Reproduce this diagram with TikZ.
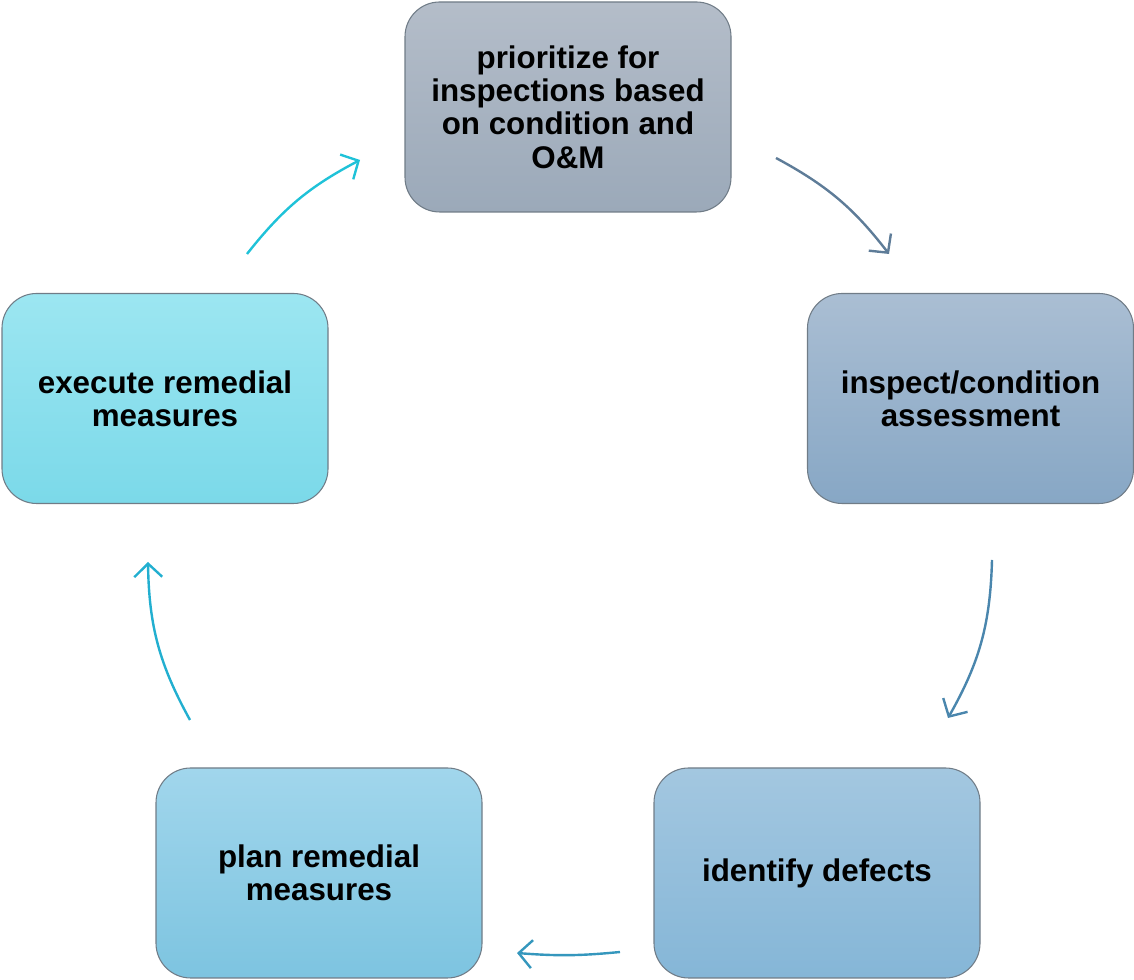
\documentclass[tikz,border=0pt]{standalone}
\usepackage{fontspec}
\setmainfont{Liberation Sans}
\usetikzlibrary{arrows.meta}
% box colours, top and bottom of each fill
\definecolor{boxline}{HTML}{707C87}
\definecolor{prioTop}{HTML}{B4BDC9}
\definecolor{prioBot}{HTML}{9BA9B9}
\definecolor{inspTop}{HTML}{AABED3}
\definecolor{inspBot}{HTML}{87A7C5}
\definecolor{identTop}{HTML}{A3C7E0}
\definecolor{identBot}{HTML}{85B6D7}
\definecolor{planTop}{HTML}{A1D6EC}
\definecolor{planBot}{HTML}{7DC4E0}
\definecolor{execTop}{HTML}{9CE6F1}
\definecolor{execBot}{HTML}{7BD9E9}
% arrow colours
\definecolor{arrA}{HTML}{5E7C98}
\definecolor{arrB}{HTML}{4A86AD}
\definecolor{arrC}{HTML}{3597BD}
\definecolor{arrD}{HTML}{22AFD0}
\definecolor{arrE}{HTML}{1FC2D8}
\tikzset{
  stage/.style={draw=boxline, line width=0.8pt, rounded corners=26pt,
    minimum width=244.5pt, minimum height=157.5pt, align=center,
    font=\fontsize{23.5}{25}\selectfont\bfseries},
  flow/.style={line width=1.8pt,
    -{Straight Barb[length=10pt,width=21pt,line width=1.8pt]}},
}
\begin{document}
\begin{tikzpicture}[x=0.75pt,y=0.75pt]
        \useasboundingbox (0,0) rectangle (1134,980);
        % the five stages
        \node[stage, top color=prioTop, bottom color=prioBot] (prio) at (568,873)
          {prioritize for\\inspections based\\on condition and\\O\&M};
        \node[stage, top color=inspTop, bottom color=inspBot] (insp) at (970.5,581.5)
          {inspect/condition\\assessment};
        \node[stage, top color=identTop, bottom color=identBot] (ident) at (817,107)
          {identify defects};
        \node[stage, top color=planTop, bottom color=planBot] (plan) at (319,107)
          {plan remedial\\measures};
        \node[stage, top color=execTop, bottom color=execBot] (exec) at (165,581.5)
          {execute remedial\\measures};
        % arrow ends
        \coordinate (prioOut) at (776,822);
        \coordinate (inspIn) at (889,726);
        \coordinate (inspOut) at (992,420);
        \coordinate (identIn) at (948,262);
        \coordinate (identOut) at (620,28);
        \coordinate (planIn) at (517,27);
        \coordinate (planOut) at (190,260);
        \coordinate (execIn) at (148,418);
        \coordinate (execOut) at (247,726);
        \coordinate (prioIn) at (360,820);
        % the cycle
        \draw[flow, arrA] (prioOut) to[bend left=12] (inspIn);
        \draw[flow, arrB] (inspOut) to[bend left=14] (identIn);
        \draw[flow, arrC] (identOut) to[bend left=5] (planIn);
        \draw[flow, arrD] (planOut) to[bend left=14] (execIn);
        \draw[flow, arrE] (execOut) to[bend left=12] (prioIn);
      \end{tikzpicture}
\end{document}
